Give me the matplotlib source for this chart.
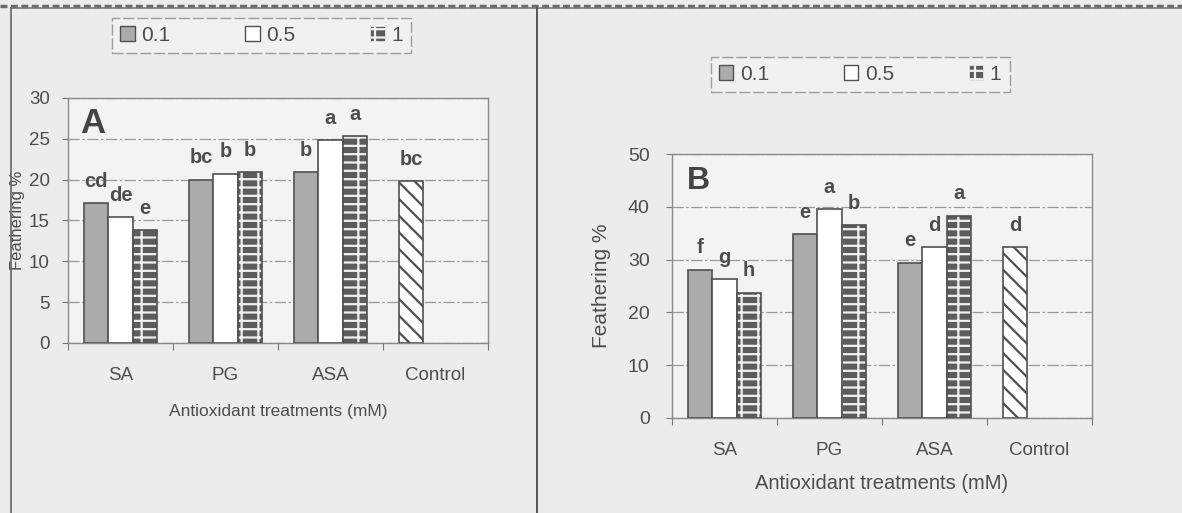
import numpy as np
import matplotlib
matplotlib.use("Agg")
import matplotlib.pyplot as plt
from matplotlib.patches import Patch
from matplotlib.lines import Line2D

plt.rcParams["font.family"] = ["Liberation Sans", "DejaVu Sans"]
plt.rcParams["hatch.linewidth"] = 1.6

# Data
categories = ["SA", "PG", "ASA", "Control"]
treatments = ["SA", "PG", "ASA"]
series = ["0.1", "0.5", "1"]

a_01 = [17.1, 20.0, 20.9]
a_05 = [15.4, 20.7, 24.8]
a_1 = [13.8, 20.9, 25.3]
a_ctrl = 19.8
a_let_01 = ["cd", "bc", "b"]
a_let_05 = ["de", "b", "a"]
a_let_1 = ["e", "b", "a"]
a_let_ctrl = "bc"

b_01 = [28.1, 34.8, 29.4]
b_05 = [26.3, 39.5, 32.3]
b_1 = [23.7, 36.5, 38.3]
b_ctrl = 32.3
b_let_01 = ["f", "e", "e"]
b_let_05 = ["g", "a", "d"]
b_let_1 = ["h", "b", "a"]
b_let_ctrl = "d"

TXT = "#4d4d4d"
EDGE = "#505050"
BG = "#ececec"
GRAY = "#ababab"
DARK = "#5c5c5c"
BRICK = "--|"

fig = plt.figure(figsize=(11.82, 5.13), dpi=100, facecolor=BG)


def brick(ax, x, h, w):
    ax.bar(x, h, w, color=DARK, hatch=BRICK, edgecolor="#f0f0f0", linewidth=0, zorder=3)
    ax.bar(x, h, w, fill=False, edgecolor=EDGE, linewidth=1.2, zorder=4)


def panel(rect, v01, v05, v1, vctrl, l01, l05, l1, lctrl, ymax, step,
          letter, lsize, tsize, csize, xsize, ysize, lab_fs, letter_pos):
    ax = fig.add_axes(rect, facecolor="#f3f3f3")
    w = 0.23
    x = np.arange(len(treatments)) + 0.5
    ax.bar(x - w, v01, w, color=GRAY, edgecolor=EDGE, linewidth=1.2, zorder=3)
    ax.bar(x, v05, w, color="white", edgecolor=EDGE, linewidth=1.2, zorder=3)
    brick(ax, x + w, v1, w)
    xc = 3.5 - w
    ax.bar(xc, vctrl, w, color="white", hatch="\\\\", edgecolor=EDGE,
           linewidth=1.2, zorder=3)

    for xs, vals, labs in [(x - w, v01, l01), (x, v05, l05), (x + w, v1, l1)]:
        for xi, v, t in zip(xs, vals, labs):
            ax.annotate(t, (xi, v), xytext=(0, 9), textcoords="offset points",
                        ha="center", va="bottom", fontsize=lab_fs,
                        fontweight="bold", color=TXT)
    ax.annotate(lctrl, (xc, vctrl), xytext=(0, 9), textcoords="offset points",
                ha="center", va="bottom", fontsize=lab_fs, fontweight="bold",
                color=TXT)

    ax.set_xlim(0, 4)
    ax.set_ylim(0, ymax)
    ax.set_yticks(np.arange(0, ymax + 1, step))
    ax.yaxis.grid(True, color="#9a9a9a", linestyle=(0, (9, 2, 2, 2)),
                  linewidth=0.9, zorder=0)
    ax.set_axisbelow(True)
    ax.set_xticks(np.arange(0, 5))
    ax.set_xticklabels([])
    ax.set_xticks(np.arange(4) + 0.5, minor=True)
    ax.set_xticklabels(categories, minor=True, fontsize=csize, color=TXT)
    ax.tick_params(axis="x", which="major", length=5, color="#777777",
                   direction="out")
    ax.tick_params(axis="x", which="minor", length=0, pad=xsize)
    ax.tick_params(axis="y", length=4, color="#777777", labelsize=tsize,
                   labelcolor=TXT, pad=ysize)
    for s in ax.spines.values():
        s.set_color("#8a8a8a")
        s.set_linewidth(1.0)
    ax.text(letter_pos[0], letter_pos[1], letter, transform=ax.transAxes,
            fontsize=lsize, fontweight="bold", color="#444444",
            ha="left", va="top")
    return ax


axA = panel([0.0575, 0.3314, 0.3553, 0.4776], a_01, a_05, a_1, a_ctrl,
            a_let_01, a_let_05, a_let_1, a_let_ctrl, 30, 5,
            "A", 25, 13.5, 13.5, 17, 9, 14.5, (0.028, 0.965))
axA.set_xlabel("Antioxidant treatments (mM)", fontsize=12.5, color=TXT, labelpad=15)
axA.set_ylabel("Feathering %", fontsize=12, color=TXT, labelpad=3)

axB = panel([0.5685, 0.1852, 0.3553, 0.5146], b_01, b_05, b_1, b_ctrl,
            b_let_01, b_let_05, b_let_1, b_let_ctrl, 50, 10,
            "B", 23, 14, 13.5, 17, 12, 14.5, (0.036, 0.955))
axB.set_xlabel("Antioxidant treatments (mM)", fontsize=14.5, color=TXT, labelpad=11)
axB.set_ylabel("Feathering %", fontsize=15, color=TXT, labelpad=12)

handles = [
    Patch(facecolor=GRAY, edgecolor=EDGE, linewidth=1.0),
    Patch(facecolor="white", edgecolor=EDGE, linewidth=1.0),
    Patch(facecolor=DARK, edgecolor="#f0f0f0", hatch=BRICK, linewidth=0.5),
]
for cx, cy in [(0.2212, 0.9308), (0.7276, 0.8548)]:
    leg = fig.legend(handles, series, loc="center", bbox_to_anchor=(cx, cy),
                     ncol=3, fontsize=15, frameon=True, fancybox=False,
                     handlelength=0.7, handleheight=0.7, handletextpad=0.3,
                     columnspacing=3.6, borderpad=0.4, labelcolor=TXT)
    leg.get_frame().set_edgecolor("#8a8a8a")
    leg.get_frame().set_facecolor("#f3f3f3")
    leg.get_frame().set_linewidth(1.0)
    leg.get_frame().set_linestyle((0, (8, 2)))

# page frame lines from the scan
fig.add_artist(Line2D([0, 1], [0.988, 0.988], color="#6a6a6a", linewidth=2.5,
                      linestyle=(0, (2, 1))))
fig.add_artist(Line2D([0.0095, 1], [0.984, 0.984], color="#777777", linewidth=1.2))
fig.add_artist(Line2D([0.0095, 0.0095], [0, 0.984], color="#666666", linewidth=1.2))
fig.add_artist(Line2D([0.4545, 0.4545], [0, 0.984], color="#555555", linewidth=1.4))

fig.savefig("out.png", dpi=100, facecolor=BG)
